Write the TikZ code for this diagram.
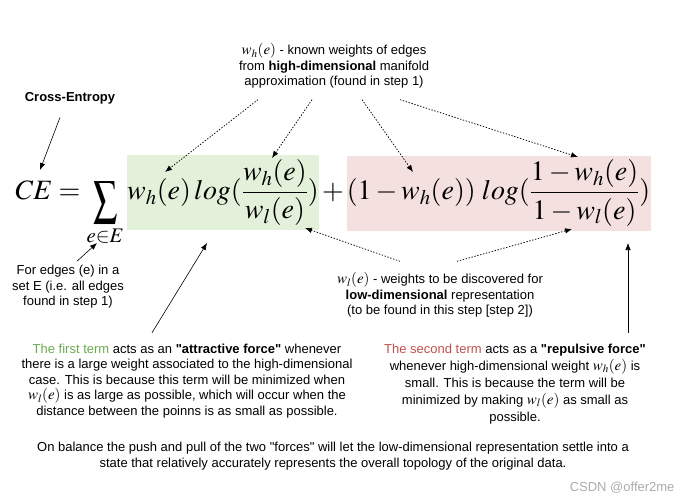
\documentclass[tikz,border=0pt]{standalone}
\usepackage{mathptmx}
\usepackage[no-math]{fontspec}
\setmainfont{Liberation Sans}
\usetikzlibrary{positioning, arrows.meta}
\definecolor{fattract}{RGB}{227,241,218}
\definecolor{frepuls}{RGB}{245,224,224}
\definecolor{cattract}{RGB}{106,170,80}
\definecolor{crepuls}{RGB}{192,80,77}
\newcommand{\formule}{\fontsize{28}{34}\selectfont}
\newcommand{\poids}[1]{{\fontsize{15}{15.5}\selectfont$w_{#1}(e)$}}
\newcommand{\grandsigma}{\mathop{\raisebox{-12pt}{\scalebox{0.85}[1.22]{$\displaystyle\sum$}}}\limits}

\begin{document}
\begin{tikzpicture}[x=1pt, y=-1pt, font=\fontsize{13}{15.5}\selectfont,
  fleche/.style={-{Latex[length=7pt, width=5.5pt]}, semithick},
  pointille/.style={fleche, line width=0.75pt, dash pattern=on 1.4pt off 1.6pt},
  terme/.style={minimum height=75pt, inner xsep=0pt, inner ysep=0pt, font=\formule},
  bloc/.style={align=center, inner sep=2pt}]
  \useasboundingbox (0,0) rectangle (692,503);

  % --- la formule, deux termes sur fond colore --------------------------
  \node (first) [terme, fill=fattract, minimum width=190pt] at (223,192.5)
       {$\displaystyle w_h(e)\, log(\frac{w_h(e)}{w_l(e)})$};
  \node (second) [terme, fill=frepuls, minimum width=304pt] at (498.5,193)
       {$\displaystyle (1-w_h(e))\; log(\frac{1-w_h(e)}{1-w_l(e)})$};
  \node (ce) [base left=3pt of first, inner sep=0pt, font=\formule]
       {$\displaystyle CE=\grandsigma_{e\in E}$};
  \node (plus) [base right=3pt of first, inner sep=0pt, font=\formule] {$+$};

  % --- bouts libres des fleches, poses sur la formule -------------------
  \coordinate (viseCE) at (40,170);
  \coordinate (viseWh) at (165,172);
  \coordinate (viseNum) at (272,158);
  \coordinate (viseUn) at (413,172);
  \coordinate (viseNumB) at (578,157);
  \coordinate (viseDen) at (305,228);
  \coordinate (viseDenB) at (572,229);
  \coordinate (viseSom) at (97,243);
  \coordinate (viseVert) at (207,243);
  \coordinate (viseRose) at (628,243);

  % --- textes -----------------------------------------------------------
  \node (titre) [font=\fontsize{13}{15.5}\selectfont\bfseries] at (70,98)
       {Cross-Entropy};
  \node (connus) [bloc] at (334,66)
       {\poids{h} - known weights of edges\\
        from \textbf{high-dimensional} manifold\\
        approximation (found in step 1)};
  \node (inconnus) [bloc] at (440,295)
       {\poids{l} - weights to be discovered for\\
        \textbf{low-dimensional} representation\\
        (to be found in this step [step 2])};
  \node (aretes) [bloc] at (68,287)
       {For edges (e) in a\\ set E (i.e. all edges\\ found in step 1)};
  \node (attract) [bloc] at (187,381)
       {\textcolor{cattract}{The first term} acts as an \textbf{\textquotedbl attractive force\textquotedbl} whenever\\
        there is a large weight associated to the high-dimensional\\
        case. This is because this term will be minimized when\\
        \poids{l} is as large as possible, which will occur when the\\
        distance between the poinns is as small as possible.};
  \node (repuls) [bloc, font=\fontsize{13}{17}\selectfont] at (515,384)
       {\textcolor{crepuls}{The second term} acts as a \textbf{\textquotedbl repulsive force\textquotedbl}\\
        whenever high-dimensional weight \poids{h} is\\
        small. This is because the term will be\\
        minimized by making \poids{l} as small as\\
        possible.};
  \node (bilan) [bloc] at (333,456)
       {On balance the push and pull of the two \textquotedbl forces\textquotedbl{} will let the low-dimensional representation settle into a\\
        state that relatively accurately represents the overall topology of the original data.};
  \node (filigrane) [text=gray!65, anchor=east] at (678,488) {CSDN @offer2me};

  % --- fleches pleines --------------------------------------------------
  \draw[fleche] ([xshift=-10pt, yshift=-10pt]titre.south) -- (viseCE);
  \draw[fleche] ([xshift=9pt, yshift=2pt]aretes.north) -- (viseSom);
  \draw[fleche] ([xshift=-35pt, yshift=9pt]attract.north) -- (viseVert);
  \draw[fleche] ([xshift=113pt, yshift=9pt]repuls.north) -- (viseRose);

  % --- fleches pointillees ----------------------------------------------
  \draw[pointille] ([xshift=-76pt, yshift=-9pt]connus.south) -- (viseWh);
  \draw[pointille] ([xshift=-22pt, yshift=-9pt]connus.south) -- (viseNum);
  \draw[pointille] ([xshift=28pt, yshift=-9pt]connus.south) -- (viseUn);
  \draw[pointille] ([xshift=66pt, yshift=-9pt]connus.south) -- (viseNumB);
  \draw[pointille] ([xshift=-40pt, yshift=9pt]inconnus.north) -- (viseDen);
  \draw[pointille] ([xshift=17pt, yshift=9pt]inconnus.north) -- (viseDenB);
\end{tikzpicture}
\end{document}
